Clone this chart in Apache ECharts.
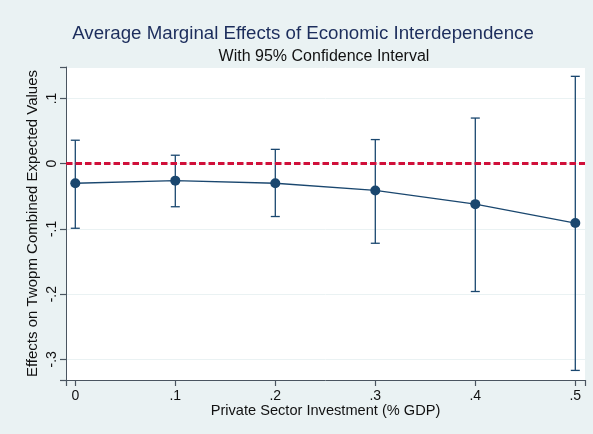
<!DOCTYPE html>
<html>
<head>
<meta charset="utf-8">
<script src="https://cdn.jsdelivr.net/npm/echarts@6/dist/echarts.min.js"></script>
<style>
  html, body { margin: 0; padding: 0; background: #eaf2f3; }
  #chart { width: 593px; height: 434px; }
</style>
</head>
<body>
<div id="chart"></div>
<script>
// Private sector investment levels (% GDP)
const investment = [0, 0.1, 0.2, 0.3, 0.4, 0.5];
// Average marginal effect and its 95% confidence bounds
const effect = [-0.030, -0.026, -0.030, -0.041, -0.062, -0.091];
const ciLower = [-0.099, -0.066, -0.081, -0.122, -0.196, -0.317];
const ciUpper = [0.036, 0.013, 0.022, 0.037, 0.070, 0.134];
// Axis label positions
const xTicks = [0, 0.1, 0.2, 0.3, 0.4, 0.5];
const yTicks = [-0.3, -0.2, -0.1, 0, 0.1];

// Axis ranges (plot region is padded slightly beyond the ticks)
const xMin = -0.0093, xMax = 0.5097;
const yMin = -0.3317, yMax = 0.1483;

const navy = '#1a476f';
const axisGray = '#4a5560';
const font = '"Liberation Sans", Arial, Helvetica, sans-serif';

function stataNum(v) {
  if (Math.abs(v) < 1e-9) return '0';
  const s = (Math.round(v * 10) / 10).toString();
  return s.replace('0.', '.');
}

const chart = echarts.init(document.getElementById('chart'));
chart.setOption({
  backgroundColor: '#eaf2f3',
  animation: false,
  title: [
    {
      text: 'Average Marginal Effects of Economic Interdependence',
      left: 298, top: 19, textAlign: 'center',
      textStyle: { fontFamily: font, fontSize: 18.7, fontWeight: 'normal', color: '#1c2d5c' }
    },
    {
      text: 'With 95% Confidence Interval',
      left: 319, top: 44, textAlign: 'center',
      textStyle: { fontFamily: font, fontSize: 16, fontWeight: 'normal', color: '#111' }
    }
  ],
  grid: {
    left: 66, right: 8, top: 67, bottom: 54,
    show: true, backgroundColor: '#ffffff', borderWidth: 0
  },
  xAxis: {
    type: 'value',
    min: xMin, max: xMax,
    name: 'Private Sector Investment (% GDP)',
    nameLocation: 'middle', nameGap: 23, nameMoveOverlap: false,
    nameTextStyle: { fontFamily: font, fontSize: 14.6, color: '#111' },
    axisLine: { show: true, onZero: false, lineStyle: { color: axisGray, width: 1 } },
    axisTick: { show: true, inside: false, length: 6, lineStyle: { color: axisGray, width: 1.2 } },
    axisLabel: {
      customValues: xTicks, margin: 9,
      fontFamily: font, fontSize: 14, color: '#111',
      formatter: stataNum
    },
    splitLine: { show: false }
  },
  yAxis: {
    type: 'value',
    min: yMin, max: yMax,
    name: 'Effects on Twopm Combined Expected Values',
    nameLocation: 'middle', nameGap: 26, nameMoveOverlap: false,
    nameTextStyle: { fontFamily: font, fontSize: 15, color: '#111' },
    axisLine: { show: true, onZero: false, lineStyle: { color: axisGray, width: 1 } },
    axisTick: { show: true, inside: false, length: 6, lineStyle: { color: axisGray, width: 1.2 } },
    axisLabel: {
      customValues: yTicks, rotate: 90, margin: 7,
      fontFamily: font, fontSize: 14, color: '#111',
      formatter: stataNum
    },
    splitLine: { show: true, lineStyle: { color: '#eaf2f3', width: 1 } }
  },
  series: [
    {
      // 95% confidence interval whiskers
      type: 'custom',
      data: investment.map((x, i) => [x, ciLower[i], ciUpper[i]]),
      encode: { x: 0, y: [1, 2] },
      z: 3,
      renderItem: function (params, api) {
        const lo = api.coord([api.value(0), api.value(1)]);
        const hi = api.coord([api.value(0), api.value(2)]);
        const cap = 4.5;
        const style = { stroke: navy, lineWidth: 1.3 };
        return {
          type: 'group',
          children: [
            { type: 'line', shape: { x1: lo[0], y1: lo[1], x2: hi[0], y2: hi[1] }, style },
            { type: 'line', shape: { x1: lo[0] - cap, y1: lo[1], x2: lo[0] + cap, y2: lo[1] }, style },
            { type: 'line', shape: { x1: hi[0] - cap, y1: hi[1], x2: hi[0] + cap, y2: hi[1] }, style }
          ]
        };
      }
    },
    {
      // point estimates
      type: 'line',
      data: investment.map((x, i) => [x, effect[i]]),
      z: 4,
      symbol: 'circle', symbolSize: 10,
      itemStyle: { color: navy },
      lineStyle: { color: navy, width: 1.3 },
      markLine: {
        silent: true, symbol: 'none', label: { show: false },
        lineStyle: { color: '#d0103a', type: [6.5, 3], width: 3 },
        data: [{ yAxis: 0 }]
      }
    }
  ]
});
</script>
</body>
</html>
